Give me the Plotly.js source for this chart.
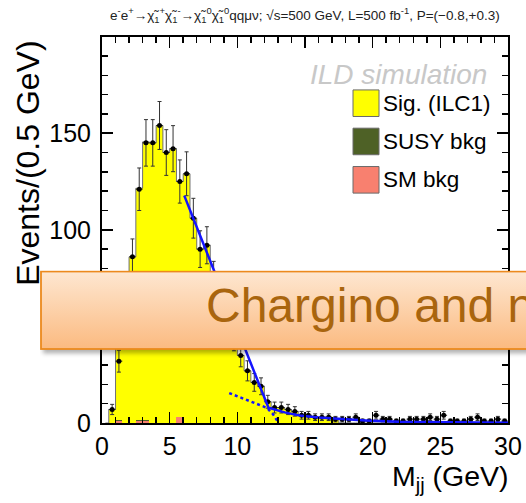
<!DOCTYPE html>
<html><head><meta charset="utf-8">
<script src="https://cdn.plot.ly/plotly-3.0.1.min.js"></script>
<style>html,body{margin:0;padding:0;background:#fff;} #chart{width:526px;height:503px;}</style>
</head><body><div id="chart"></div>
<script>
// ---- data ----
const binCenters = [0.25,0.75,1.25,1.75,2.25,2.75,3.25,3.75,4.25,4.75,5.25,5.75,6.25,6.75,7.25,7.75,8.25,8.75,9.25,9.75,
  10.25,10.75,11.25,11.75,12.25,12.75,13.25,13.75,14.25,14.75,15.25,15.75,16.25,16.75,17.25,17.75,18.25,18.75,19.25,19.75,
  20.25,20.75,21.25,21.75,22.25,22.75,23.25,23.75,24.25,24.75,25.25,25.75,26.25,26.75,27.25,27.75,28.25,28.75,29.25,29.75];
const sigCounts = [0,7,49,62,86,120,144,145,154,140,142,122,129,106,90,92,75,66,55,44,
  35,27,21,19,11,8,8,7,6,4,4,3,3,3,2,0,0,0,0,0,
  0,0,0,0,0,0,0,0,0,0,0,0,0,0,0,0,0,0,0,0];
const susyCounts = [0,0,0.5,0,0,0.5,0.5,0,0,0,0,0,0,0,0,0,0,0,0,0,
  0,0,0,0,0,0,0,0,0,0,0,0,0,0,0,0,0,0,0,0,
  0,0,0,0,0,0,0,0,0,0,0,0,0,0,0,0,0,0,0,0];
const smCounts = [0,0,1,0,0,1,1,0,0,0,0,3,0,0,0,0,0,0,0,0,
  0,0,0,0,0,0,0,0,0,0,0,0,0,0,0,0,0,0,0,0,
  0,0,0,0,0,0,0,0,0,0,0,0,0,0,0,0,0,0,0,0];
const dataCounts = [0,7,32,60,86,121,145,145,154,140,142,125,129,106,90,92,75,66,55,44,
  35,27,21,19,11,8,8,7,6,4,4,3,3,3,2,2,2,3,1,1,
  4,2,2,1,1,2,2,2,3,2,4,1,1,1,2,3,1,1,2,1];
const fitX = [6.08,12.3,13.5,14.6,16,17.5,19.5,22,25,30];
const fitY = [117.7,7.9,5.5,3.9,2.8,2.0,1.3,0.6,0.3,0.1];
const fitDotX = [9.4,10.6,11.5,12.2,12.65,13.05];
const fitDotY = [15.5,12.2,10.0,7.8,4.4,0];
const legendLabels = ['Sig. (ILC1)','SUSY bkg','SM bkg'];
const legendColors = ['#ffff00','#4e6126','#f8806f'];

const FONT = 'Liberation Sans, Arial, Helvetica, sans-serif';
const total = binCenters.map((_, i) => sigCounts[i] + susyCounts[i] + smCounts[i]);
const dataY = dataCounts.map(v => v > 0 ? v : null);
const dataErr = dataCounts.map(v => Math.sqrt(v));

const traces = [
  {type:'bar', x:binCenters, y:smCounts, width:0.5, marker:{color:legendColors[2], line:{width:0}}, hoverinfo:'skip'},
  {type:'bar', x:binCenters, y:susyCounts, width:0.5, marker:{color:legendColors[1], line:{width:0}}, hoverinfo:'skip'},
  {type:'bar', x:binCenters, y:sigCounts, width:0.5, marker:{color:legendColors[0], line:{width:0}}, hoverinfo:'skip'},
  {type:'scatter', mode:'lines', x:binCenters, y:total, line:{shape:'hvh', color:'#707070', width:1}, hoverinfo:'skip'},
  {type:'scatter', mode:'markers', x:binCenters, y:dataY,
    marker:{color:'#000', size:5},
    error_y:{type:'data', array:dataErr, visible:true, color:'#333', thickness:1, width:2},
    error_x:{type:'constant', value:0.25, visible:true, color:'#333', thickness:1, width:0}},
  {type:'scatter', mode:'lines', x:fitDotX, y:fitDotY, line:{color:'#1414ff', width:2.5, dash:'dot'}},
  {type:'scatter', mode:'lines', x:fitX, y:fitY, line:{color:'#1414ff', width:2.5}}
];

// paper helpers (plot area: x 102..508 px, y 37..423.5 px)
const PX = p => (p - 102) / 406;
const PY = p => (423.5 - p) / 386.5;

const shapes = [];
const annotations = [];
const boxTops = [90, 128.3, 166.7];
legendLabels.forEach((lab, i) => {
  shapes.push({type:'rect', xref:'paper', yref:'paper', x0:PX(353), x1:PX(379), y0:PY(boxTops[i]+26.6), y1:PY(boxTops[i]),
    fillcolor:legendColors[i], line:{color:'#6a6a6a', width:1}, layer:'above'});
  annotations.push({xref:'paper', yref:'paper', x:PX(381), y:PY(boxTops[i]+13.3), xanchor:'left', yanchor:'middle',
    text:lab, showarrow:false, font:{family:FONT, size:22.5, color:'#000'}});
});

annotations.push({xref:'paper', yref:'paper', x:PX(305), y:PY(15), xanchor:'center', yanchor:'middle', showarrow:false,
  text:'e<sup>-</sup>e<sup>+</sup>→χ̃<sub>1</sub><sup>+</sup>χ̃<sub>1</sub><sup>-</sup>→χ̃<sub>1</sub><sup>0</sup>χ̃<sub>1</sub><sup>0</sup>qqμν; √s=500 GeV, L=500 fb<sup>-1</sup>, P=(−0.8,+0.3)',
  font:{family:FONT, size:13.5, color:'#222'}});
annotations.push({xref:'paper', yref:'paper', x:PX(489), y:PY(75), xanchor:'right', yanchor:'middle', showarrow:false,
  text:'<i>ILD simulation</i>', font:{family:FONT, size:28, color:'#c8c8c8'}});
annotations.push({xref:'paper', yref:'paper', x:PX(28), y:PY(164), xanchor:'center', yanchor:'middle', showarrow:false,
  textangle:-90, text:'Events/(0.5 GeV)', font:{family:FONT, size:32, color:'#000'}});
annotations.push({xref:'paper', yref:'paper', x:PX(511), y:PY(479), xanchor:'right', yanchor:'middle', showarrow:false,
  text:'M<sub>jj</sub> (GeV)', font:{family:FONT, size:28.5, color:'#000'}});
annotations.push({xref:'paper', yref:'paper', x:PX(204), y:PY(306), xanchor:'left', yanchor:'middle', showarrow:false,
  text:'Chargino and n', font:{family:FONT, size:48, color:'#a9650e'}});

const bannerSvg = '<svg xmlns="http://www.w3.org/2000/svg" width="500" height="90" viewBox="0 0 500 90" preserveAspectRatio="none">' +
  '<defs><linearGradient id="g" x1="0" y1="0" x2="0" y2="1"><stop offset="0" stop-color="#fee7d1"/><stop offset="1" stop-color="#fbba80"/></linearGradient>' +
  '<filter id="s" x="-5%" y="-30%" width="110%" height="170%"><feGaussianBlur stdDeviation="2.2"/></filter></defs>' +
  '<rect x="3" y="6" width="520" height="77" fill="#000" fill-opacity="0.3" filter="url(#s)"/>' +
  '<rect x="1" y="1" width="520" height="77.6" fill="url(#g)" stroke="#ec8a1e" stroke-width="1.8"/></svg>';

const images = [{source:'data:image/svg+xml;charset=utf-8,' + encodeURIComponent(bannerSvg),
  xref:'paper', yref:'paper', x:PX(40), y:PY(270.8), sizex:500/406, sizey:90/386.5,
  xanchor:'left', yanchor:'top', sizing:'stretch', layer:'above'}];

const axisCommon = {ticks:'inside', ticklen:11, tickwidth:1.5, tickcolor:'#000', showline:true, linewidth:2, linecolor:'#000',
  mirror:'allticks', showgrid:false, zeroline:false, tickfont:{family:FONT, size:25, color:'#000'}, fixedrange:true};

const layout = {
  width:526, height:503, margin:{l:102, r:18, t:37, b:79.5, pad:0},
  paper_bgcolor:'#fff', plot_bgcolor:'#fff', barmode:'stack', bargap:0, showlegend:false,
  xaxis:Object.assign({}, axisCommon, {range:[0,30], tick0:0, dtick:5,
    minor:{ticks:'inside', tick0:0, dtick:1, ticklen:6, tickwidth:1.5, tickcolor:'#000', showgrid:false}}),
  yaxis:Object.assign({}, axisCommon, {range:[0,199.8], tick0:0, dtick:50, ticklabelstandoff:4,
    minor:{ticks:'inside', tick0:0, dtick:10, ticklen:6, tickwidth:1.5, tickcolor:'#000', showgrid:false}}),
  shapes:shapes, annotations:annotations, images:images
};

Plotly.newPlot('chart', traces, layout, {staticPlot:true, displayModeBar:false});
</script></body></html>
